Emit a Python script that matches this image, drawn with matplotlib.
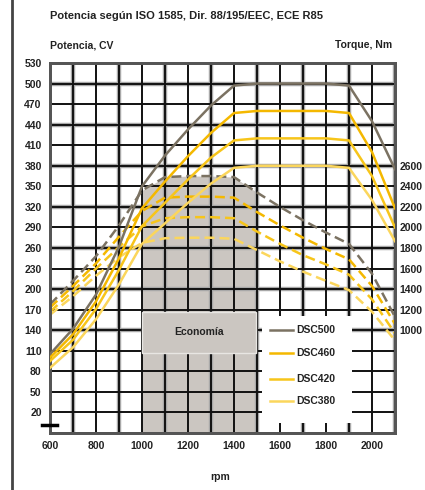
import matplotlib
matplotlib.use("Agg")
import matplotlib.pyplot as plt
from matplotlib.lines import Line2D
from matplotlib.patches import Rectangle

plt.rcParams['font.family'] = ['Liberation Sans', 'DejaVu Sans']

# engine speed, rpm
rpm = [600, 700, 800, 900, 1000, 1100, 1200, 1300, 1400, 1500, 1600, 1700, 1800, 1900, 2000, 2100]

# power, CV (solid lines)
power_500 = [105, 142, 192, 262, 350, 395, 433, 468, 497, 500, 500, 500, 500, 497, 445, 375]
power_460 = [100, 134, 182, 245, 318, 357, 394, 428, 457, 460, 460, 460, 460, 457, 400, 318]
power_420 = [95, 126, 171, 228, 292, 326, 360, 392, 417, 420, 420, 420, 420, 417, 365, 290]
power_380 = [85, 115, 156, 207, 266, 296, 326, 354, 377, 380, 380, 380, 380, 377, 330, 270]

# torque, Nm (dashed lines)
torque_500 = [1250, 1480, 1720, 2020, 2360, 2490, 2500, 2500, 2490, 2340, 2200, 2070, 1950, 1840, 1550, 1130]
torque_460 = [1220, 1430, 1650, 1910, 2160, 2290, 2300, 2300, 2290, 2150, 2020, 1900, 1790, 1690, 1430, 1060]
torque_420 = [1180, 1380, 1600, 1810, 2010, 2090, 2100, 2100, 2090, 1960, 1840, 1730, 1640, 1540, 1300, 970]
torque_380 = [1150, 1330, 1530, 1710, 1850, 1895, 1900, 1900, 1890, 1780, 1670, 1570, 1480, 1390, 1180, 900]

engines = ['DSC500', 'DSC460', 'DSC420', 'DSC380']
colors = ['#7b7262', '#f4b800', '#f7c51a', '#fbd65c']

power_ticks = list(range(20, 531, 30))
torque_ticks = list(range(1000, 2601, 200))
rpm_ticks = list(range(600, 2001, 200))

fig = plt.figure(figsize=(4.25, 4.9), dpi=100)
ax = fig.add_axes([50 / 425, 57 / 490, 345 / 425, 370 / 490])
ax2 = ax.twinx()
ax.set_zorder(ax2.get_zorder() + 1)
ax.patch.set_visible(False)

ax.set_xlim(600, 2100)
ax.set_ylim(-10, 530)
ax2.set_ylim(0, 3600)

# grid (power and torque grids coincide)
for i, r in enumerate(range(600, 2101, 100)):
    if i % 2 == 1:
        ax2.axvline(r, color='#a8a8a8', lw=3.2, zorder=0.8)
    ax2.axvline(r, color='#111111', lw=1.4, zorder=1)
for i, t in enumerate(range(0, 3601, 200)):
    if i % 2 == 1 and t > 800:
        ax2.axhline(t, color='#a8a8a8', lw=3.2, zorder=0.8)
    ax2.axhline(t, color='#111111', lw=1.4, zorder=1)

# economy zone under the top torque curve
i0, i1 = rpm.index(1000), rpm.index(1500)
ax2.fill_between(rpm[i0:i1 + 1], 0, torque_500[i0:i1 + 1], color='#cbc6c1', lw=0, zorder=0.5)

torques = [torque_500, torque_460, torque_420, torque_380]
powers = [power_500, power_460, power_420, power_380]
for tq, c in zip(torques, colors):
    ax2.plot(rpm, tq, color=c, lw=1.8, ls=(0, (4, 2)), zorder=2)
for pw, c in zip(powers, colors):
    ax.plot(rpm, pw, color=c, lw=1.8, zorder=3)

# economy label box
ax.add_patch(Rectangle((1000, 107), 495, 60, facecolor='#cbc6c1', edgecolor='#e8e6e3',
                       lw=1, zorder=4))
ax.text(1247, 137, 'Economía', ha='center', va='center', fontsize=7.5, fontweight='bold',
        color='#222222', zorder=5)

# legend on a white patch
ax.add_patch(Rectangle((0.614, 0.027), 0.261, 0.289, transform=ax.transAxes,
                       facecolor='white', edgecolor='none', zorder=4))
for k, (name, c) in enumerate(zip(engines, colors)):
    y = [0.278, 0.216, 0.146, 0.086][k]
    ax.add_line(Line2D([0.638, 0.704], [y, y], transform=ax.transAxes, color=c, lw=1.8, zorder=5))
    ax.text(0.713, y, name, transform=ax.transAxes, ha='left', va='center', fontsize=7.5,
            fontweight='bold', color='#222222', zorder=5)

ax.set_xticks(rpm_ticks)
ax.set_yticks(power_ticks)
ax2.set_yticks(torque_ticks)
ax.tick_params(axis='both', length=0, labelsize=7.5, pad=6)
ax2.tick_params(axis='y', length=0, labelsize=7.5, pad=3)
for lab in ax.get_xticklabels() + ax.get_yticklabels() + ax2.get_yticklabels():
    lab.set_fontweight('bold')
    lab.set_color('#222222')

for a in (ax, ax2):
    for s in a.spines.values():
        s.set_color('#555555')
        s.set_linewidth(2)

# short black mark at the bottom left
ax.add_line(Line2D([-0.023, 0.02], [0.022, 0.022], transform=ax.transAxes, color='black',
                   lw=2.5, clip_on=False, zorder=6))

fig.text(50 / 425, 1 - 16 / 490, 'Potencia según ISO 1585, Dir. 88/195/EEC, ECE R85',
         ha='left', va='center', fontsize=8, fontweight='bold', color='#222222')
fig.text(50 / 425, 1 - 45 / 490, 'Potencia, CV', ha='left', va='center', fontsize=7.5,
         fontweight='bold', color='#222222')
fig.text(392 / 425, 1 - 45 / 490, 'Torque, Nm', ha='right', va='center', fontsize=7.5,
         fontweight='bold', color='#222222')
fig.text(220 / 425, 1 - 477 / 490, 'rpm', ha='center', va='center', fontsize=7.5,
         fontweight='bold', color='#222222')

# frame line at the left edge of the page
fig.add_artist(Line2D([12 / 425, 12 / 425], [0, 1], transform=fig.transFigure,
                      color='#444444', lw=2))

fig.savefig('out.png', dpi=100)
